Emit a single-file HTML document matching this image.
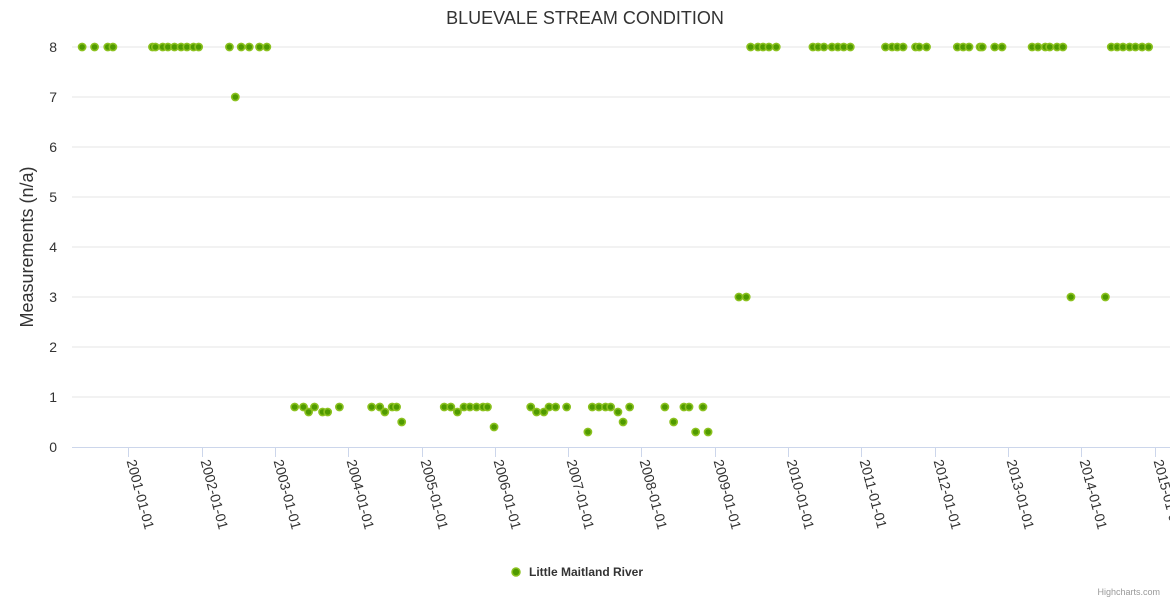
<!DOCTYPE html>
<html><head><meta charset="utf-8"><style>
body{margin:0;background:#fff;}
svg{display:block;font-family:"Liberation Sans",sans-serif;}
</style></head><body>
<svg id="chart" width="1170" height="600">
<text x="585" y="24" text-anchor="middle" font-size="18" fill="#333">BLUEVALE STREAM CONDITION</text>
<text transform="translate(33,247) rotate(-90)" text-anchor="middle" font-size="18" fill="#333">Measurements (n/a)</text>
<g id="grid"></g><g id="xaxis"></g><g id="points"></g>
<g>
<circle cx="516" cy="572" r="4" fill="#4f9a00" stroke="#8bc11f" stroke-width="1.5"/>
<text x="529" y="576" font-size="12" font-weight="bold" fill="#333">Little Maitland River</text>
</g>
<text x="1160" y="595" text-anchor="end" font-size="9" fill="#999">Highcharts.com</text>
</svg>
<script>
const yTicks=[0,1,2,3,4,5,6,7,8];
const xTickYears=[2001,2002,2003,2004,2005,2006,2007,2008,2009,2010,2011,2012,2013,2014,2015];
const dates=[2000.37,2000.54,2000.72,2000.79,2001.33,2001.37,2001.47,2001.54,2001.63,2001.72,2001.80,2001.89,2001.96,2002.38,2002.46,2002.54,2002.65,2002.79,2002.89,
2003.27,2003.39,2003.46,2003.54,2003.65,2003.72,2003.88,2004.32,2004.43,2004.50,2004.60,2004.66,2004.73,
2005.31,2005.40,2005.49,2005.58,2005.66,2005.75,2005.84,2005.90,2005.99,
2006.49,2006.57,2006.67,2006.74,2006.83,2006.98,2007.27,2007.33,2007.42,2007.51,2007.58,2007.68,2007.75,2007.84,
2008.32,2008.44,2008.58,2008.65,2008.74,2008.84,2008.91,2009.33,2009.43,
2009.49,2009.59,2009.66,2009.74,2009.84,2010.34,2010.41,2010.49,2010.60,2010.68,2010.76,2010.85,
2011.33,2011.42,2011.49,2011.57,2011.74,2011.79,2011.89,2012.31,2012.39,2012.47,2012.62,2012.65,2012.82,2012.92,
2013.33,2013.41,2013.51,2013.57,2013.67,2013.75,2013.86,2014.33,2014.41,2014.49,2014.57,2014.66,2014.74,2014.83,2014.92];
const values=[8,8,8,8,8,8,8,8,8,8,8,8,8,8,7,8,8,8,8,
0.8,0.8,0.7,0.8,0.7,0.7,0.8,0.8,0.8,0.7,0.8,0.8,0.5,
0.8,0.8,0.7,0.8,0.8,0.8,0.8,0.8,0.4,
0.8,0.7,0.7,0.8,0.8,0.8,0.3,0.8,0.8,0.8,0.8,0.7,0.5,0.8,
0.8,0.5,0.8,0.8,0.3,0.8,0.3,3,3,
8,8,8,8,8,8,8,8,8,8,8,8,
8,8,8,8,8,8,8,8,8,8,8,8,8,8,
8,8,8,8,8,8,3,3,8,8,8,8,8,8,8];
const NS="http://www.w3.org/2000/svg";
const X=y=>128.3+(y-2001)*73.3;
const Y=v=>447-v*50;
function mk(t,a,p){const e=document.createElementNS(NS,t);for(const k in a)e.setAttribute(k,a[k]);p.appendChild(e);return e;}
const grid=document.getElementById('grid'),xa=document.getElementById('xaxis'),pts=document.getElementById('points');
yTicks.forEach(v=>{
 if(v>0){const l=mk('line',{x1:72,x2:1170,y1:Y(v),y2:Y(v),stroke:'#e6e6e6'},grid);
 
 }
 const t=mk('text',{x:57,y:Y(v)+5,'text-anchor':'end','font-size':14,fill:'#333'},grid);
 t.textContent=v;
 
 
});
const ax=mk('line',{x1:72,x2:1170,y1:447.5,y2:447.5,stroke:'#ccd6eb'},xa);


xTickYears.forEach(yr=>{
 const x=Math.round(X(yr))+0.5;
 mk('line',{x1:x,x2:x,y1:447,y2:457,stroke:'#ccd6eb'},xa);
 const t=mk('text',{transform:`translate(${x-2},461) rotate(75)`,'font-size':14,fill:'#333'},xa);
 t.textContent=yr+'-01-01';
 
 
});
dates.forEach((d,i)=>{
 const c=mk('circle',{cx:X(d),cy:Y(values[i]),r:3.6,fill:'#4f9a00',stroke:'#8bc11f','stroke-width':1.6},pts);
 
 
});
</script>
</body></html>
